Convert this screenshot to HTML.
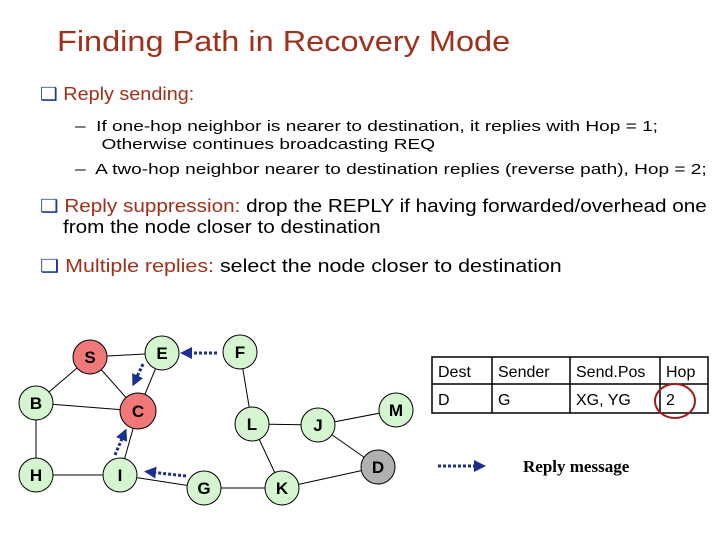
<!DOCTYPE html>
<html><head><style>
body{margin:0;width:720px;height:540px;background:#fff;overflow:hidden;position:relative;font-family:"Liberation Sans",sans-serif}
.t{position:absolute;white-space:nowrap;transform-origin:0 0}
</style></head><body>
<div class="t" style="left:57px;top:26px;font-size:29px;color:#a0301a;transform:scaleX(1.12)">Finding Path in Recovery Mode</div>
<div class="t" style="left:40px;top:84px;font-size:18px;color:#000;transform:scaleX(1.1)"><span style="color:#1a3a9a">&#10065;</span> <span style="color:#a0301a">Reply sending:</span></div>
<div class="t" style="left:75px;top:118px;font-size:15px;line-height:18px;transform:scaleX(1.27)">–&nbsp; If one-hop neighbor is nearer to destination, it replies with Hop = 1;<br>&nbsp;&nbsp;&nbsp;&nbsp; Otherwise continues broadcasting REQ</div>
<div class="t" style="left:75px;top:161px;font-size:15px;transform:scaleX(1.27)">–&nbsp; A two-hop neighbor nearer to destination replies (reverse path), Hop = 2;</div>
<div class="t" style="left:40px;top:196px;font-size:18px;line-height:21px;transform:scaleX(1.15)"><span style="color:#1a3a9a">&#10065;</span> <span style="color:#a0301a">Reply suppression:</span> drop the REPLY if having forwarded/overhead one<br>&nbsp;&nbsp;&nbsp; from the node closer to destination</div>
<div class="t" style="left:40px;top:256px;font-size:18px;transform:scaleX(1.19)"><span style="color:#1a3a9a">&#10065;</span> <span style="color:#a0301a">Multiple replies:</span> select the node closer to destination</div>
<svg width="720" height="540" style="position:absolute;left:0;top:0">
<defs><marker id="a" markerWidth="4" markerHeight="4" refX="2" refY="2" orient="auto"><path d="M0,0L4,2L0,4z" fill="#1a2f8f"/></marker></defs>
<g stroke="#000" stroke-width="1">
<line x1="90" y1="357" x2="162" y2="353"/><line x1="90" y1="357" x2="36" y2="403"/><line x1="90" y1="357" x2="138" y2="411"/>
<line x1="162" y1="353" x2="138" y2="411"/><line x1="36" y1="403" x2="138" y2="411"/><line x1="36" y1="403" x2="36" y2="475"/>
<line x1="36" y1="475" x2="120" y2="475"/><line x1="120" y1="475" x2="138" y2="411"/><line x1="120" y1="475" x2="204" y2="488"/>
<line x1="204" y1="488" x2="282" y2="488"/><line x1="240" y1="352" x2="252" y2="424"/><line x1="252" y1="424" x2="318" y2="425"/>
<line x1="252" y1="424" x2="282" y2="488"/><line x1="318" y1="425" x2="396" y2="410"/><line x1="318" y1="425" x2="378" y2="467"/>
<line x1="282" y1="488" x2="378" y2="467"/>
</g>
<g stroke="#1a2f8f" stroke-width="3" stroke-dasharray="3,2" marker-end="url(#a)">
<line x1="217" y1="353" x2="186" y2="353"/><line x1="143" y1="364" x2="135" y2="381"/>
<line x1="115" y1="455" x2="124" y2="434"/><line x1="186" y1="476" x2="150" y2="472"/>
<line x1="438" y1="466" x2="480" y2="466"/>
</g>
<g stroke="#000" stroke-width="1" font-family="Liberation Sans" font-weight="bold" font-size="17" text-anchor="middle">
<circle cx="90" cy="357" r="17" fill="#f07878"/><circle cx="138" cy="411" r="18" fill="#f07878"/>
<circle cx="162" cy="353" r="17" fill="#d4f5d0"/><circle cx="240" cy="352" r="17" fill="#d4f5d0"/>
<circle cx="36" cy="403" r="17" fill="#d4f5d0"/><circle cx="252" cy="424" r="17" fill="#d4f5d0"/>
<circle cx="318" cy="425" r="17" fill="#d4f5d0"/><circle cx="396" cy="410" r="17" fill="#d4f5d0"/>
<circle cx="36" cy="475" r="17" fill="#d4f5d0"/><circle cx="120" cy="475" r="17" fill="#d4f5d0"/>
<circle cx="204" cy="488" r="17" fill="#d4f5d0"/><circle cx="282" cy="488" r="17" fill="#d4f5d0"/>
<circle cx="378" cy="467" r="17" fill="#b0b0b0"/>
<g stroke="none" fill="#000">
<text x="90" y="363">S</text><text x="138" y="417">C</text><text x="162" y="359">E</text><text x="240" y="358">F</text>
<text x="36" y="409">B</text><text x="252" y="430">L</text><text x="318" y="431">J</text><text x="396" y="416">M</text>
<text x="36" y="481">H</text><text x="120" y="481">I</text><text x="204" y="494">G</text><text x="282" y="494">K</text><text x="378" y="473">D</text>
</g></g>
<g stroke="#000" stroke-width="1.5" fill="none">
<rect x="432" y="357" width="276" height="56"/><line x1="432" y1="384" x2="708" y2="384"/>
<line x1="492" y1="357" x2="492" y2="413"/><line x1="570" y1="357" x2="570" y2="413"/><line x1="660" y1="357" x2="660" y2="413"/>
</g>
<ellipse cx="675" cy="401" rx="20" ry="17" fill="none" stroke="#a01818" stroke-width="2"/>
<g font-family="Liberation Sans" font-size="16" fill="#000">
<text x="438" y="377">Dest</text><text x="498" y="377">Sender</text><text x="576" y="377">Send.Pos</text><text x="666" y="377">Hop</text>
<text x="438" y="405">D</text><text x="498" y="405">G</text><text x="576" y="405">XG, YG</text><text x="666" y="405">2</text>
</g>
<text x="523" y="472" font-family="Liberation Serif" font-weight="bold" font-size="17">Reply message</text>
</svg>
</body></html>
